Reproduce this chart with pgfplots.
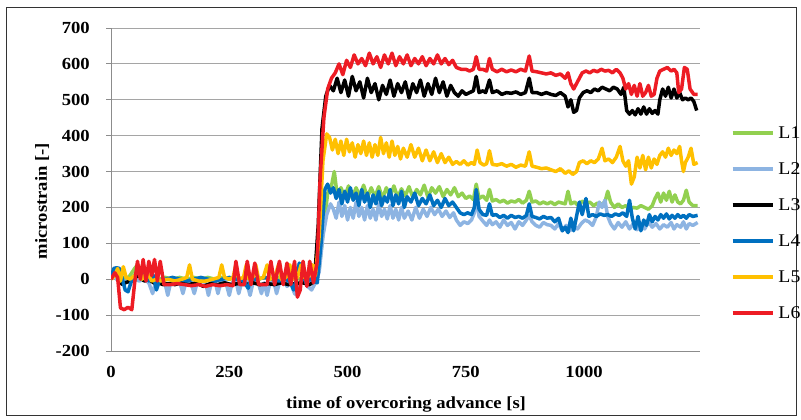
\documentclass[border=0pt]{standalone}
\usepackage{fontspec}
\setmainfont{Liberation Serif}[FakeStretch=1.1]
\usepackage{pgfplots}
\pgfplotsset{compat=1.18}
\definecolor{cLone}{RGB}{146,208,80}
\definecolor{cLtwo}{RGB}{141,180,226}
\definecolor{cLthree}{RGB}{0,0,0}
\definecolor{cLfour}{RGB}{0,112,192}
\definecolor{cLfive}{RGB}{255,192,0}
\definecolor{cLsix}{RGB}{237,28,36}
\definecolor{gridgray}{RGB}{165,165,165}
\definecolor{axgray}{RGB}{140,140,140}

\begin{document}
\begin{tikzpicture}
\path (0bp,0bp) rectangle (801bp,420bp);
\draw[line width=1bp, black!80] (6.5bp,4.5bp) rectangle (796.5bp,412bp);
\begin{axis}[
    at={(111bp,69bp)}, anchor=south west,
    scale only axis, width=589bp, height=323bp,
    xmin=0, xmax=1245, ymin=-200, ymax=700,
    xtick={0,250,500,750,1000}, ytick={-200,-100,...,700},
    axis x line*=bottom, axis y line*=left,
    axis line style={line width=1bp, color=axgray, -},
    ymajorgrids, grid style={line width=1bp, color=gridgray},
    tick align=outside, major tick length=5bp,
    xtick style={draw=none}, ytick style={line width=1bp, color=axgray},
    /pgf/number format/assume math mode=true,
    /pgf/number format/set thousands separator={},
    ticklabel style={font=\bfseries\fontsize{17}{20}\selectfont, inner sep=0pt},
    xticklabel style={yshift=-10bp},
    yticklabel style={xshift=-16bp},
    xlabel={time of overcoring advance [s]},
    ylabel={microstrain [-]},
    label style={font=\bfseries\fontsize{17}{20}\selectfont, inner sep=0pt},
    xlabel style={at={(axis description cs:0.501,-0.164)}, anchor=center},
    ylabel style={at={(axis description cs:-0.117,0.464)}, anchor=center},
    legend style={draw=none, fill=none, at={(1.0526,0.3963)}, anchor=west,
        inner sep=0pt, outer sep=0pt, row sep=24bp, column sep=4bp,
        font=\fontsize{18}{20}\selectfont,
        nodes={inner sep=0pt, text height=12bp, text depth=0bp}},
    legend image code/.code={\draw[#1, line width=3.5bp] (0bp,0bp) -- (40bp,0bp);},
    legend cell align=left,
    every axis plot/.append style={line width=3.5bp, line join=round, no markers},
]
% L1
\addplot[cLone] coordinates {(0,0)(8,20)(16,10)(24,5)(32,0)(40,10)(50,30)(56,40)(62,10)(72,20)(82,0)(92,5)(102,0)(115,5)(130,0)(145,5)(160,0)(175,5)(190,0)(205,5)(220,0)(235,5)(250,0)(265,5)(280,0)(295,5)(310,0)(325,5)(340,0)(355,5)(370,0)(385,5)(400,0)(415,5)(428,0)(440,30)(450,150)(458,240)(466,260)(472,300)(478,235)(486,255)(494,230)(502,260)(510,225)(518,255)(526,232)(534,262)(542,228)(550,255)(558,230)(566,258)(574,225)(582,255)(590,230)(598,260)(606,228)(614,252)(622,232)(630,258)(638,228)(646,250)(654,235)(662,262)(670,228)(678,255)(686,240)(694,258)(702,230)(710,250)(718,235)(726,255)(734,230)(742,240)(750,225)(758,232)(766,222)(772,265)(778,225)(786,232)(794,220)(800,250)(806,218)(814,222)(822,215)(830,220)(838,212)(846,218)(854,215)(862,222)(870,212)(878,220)(884,245)(890,215)(898,218)(906,210)(914,215)(922,210)(930,215)(938,208)(946,215)(954,212)(960,210)(966,245)(972,210)(980,215)(988,205)(996,218)(1004,210)(1012,215)(1020,205)(1028,212)(1036,208)(1044,215)(1050,245)(1056,215)(1064,200)(1072,210)(1080,200)(1088,205)(1096,195)(1104,200)(1112,198)(1120,205)(1128,200)(1136,195)(1144,205)(1150,225)(1156,240)(1162,215)(1168,240)(1174,220)(1180,245)(1186,215)(1192,235)(1198,215)(1204,210)(1210,220)(1216,248)(1222,215)(1230,205)(1240,205)};
\addlegendentry{L1}
% L2
\addplot[cLtwo] coordinates {(0,0)(6,20)(12,0)(20,-10)(30,-5)(40,-10)(50,0)(60,-5)(70,0)(80,-10)(88,-40)(94,-10)(104,-5)(114,-10)(120,-45)(126,-10)(136,-5)(146,-10)(152,-40)(158,-10)(168,-5)(176,-40)(182,-10)(192,-5)(200,-10)(206,-45)(212,-10)(220,-5)(226,-40)(232,-10)(242,-5)(250,-45)(256,-10)(264,-5)(270,-40)(276,-10)(286,-5)(294,-45)(300,-10)(310,-5)(318,-40)(324,-10)(330,-45)(336,-10)(344,-5)(350,-40)(356,-10)(366,-5)(372,-20)(380,-10)(388,-40)(394,-45)(400,-10)(408,-5)(416,-20)(424,-30)(432,-10)(440,20)(448,120)(456,180)(464,210)(470,195)(476,170)(482,215)(488,175)(494,205)(500,165)(506,200)(512,170)(518,215)(524,175)(530,200)(536,165)(542,205)(548,170)(554,195)(560,165)(566,210)(572,175)(578,195)(584,168)(590,205)(596,170)(602,195)(608,165)(614,200)(620,170)(628,190)(636,165)(644,200)(652,170)(660,195)(668,175)(676,200)(684,180)(692,195)(700,175)(708,190)(716,172)(724,185)(730,165)(738,150)(746,160)(754,155)(762,165)(768,185)(772,230)(778,175)(786,162)(794,150)(800,165)(806,152)(814,160)(822,145)(830,165)(838,150)(846,158)(854,140)(862,160)(870,150)(878,165)(884,178)(890,160)(898,150)(906,145)(914,158)(922,152)(930,150)(938,140)(946,155)(954,135)(962,150)(970,135)(978,148)(986,140)(994,155)(1002,165)(1010,160)(1018,150)(1026,175)(1032,215)(1038,200)(1044,220)(1050,175)(1056,155)(1064,140)(1072,158)(1080,145)(1088,160)(1096,140)(1104,155)(1112,138)(1120,152)(1128,140)(1136,160)(1144,145)(1152,155)(1160,140)(1168,152)(1176,145)(1184,158)(1190,140)(1196,152)(1204,145)(1210,160)(1216,140)(1222,155)(1230,150)(1240,158)};
\addlegendentry{L2}
% L3
\addplot[cLthree] coordinates {(0,0)(6,25)(12,25)(18,-5)(24,-15)(30,-10)(40,-5)(50,5)(60,10)(70,-5)(80,0)(90,-10)(100,-10)(110,-15)(120,-12)(135,-15)(150,-10)(165,-15)(180,-10)(195,-20)(210,-12)(225,-15)(240,-10)(255,-15)(270,-12)(285,-15)(300,-10)(315,-15)(330,-12)(345,-15)(360,-10)(375,-15)(390,-12)(405,-10)(420,-15)(430,-5)(438,150)(446,420)(454,510)(462,540)(470,525)(478,560)(486,520)(494,555)(502,510)(510,565)(518,525)(526,550)(534,505)(542,560)(550,520)(558,545)(566,500)(574,540)(582,515)(590,555)(598,510)(606,545)(614,520)(622,550)(630,505)(638,545)(646,520)(654,555)(662,510)(670,545)(678,515)(686,560)(694,520)(702,550)(710,510)(718,540)(726,520)(734,510)(742,525)(750,515)(758,520)(766,525)(772,565)(778,520)(786,525)(792,520)(800,555)(806,520)(816,525)(826,515)(836,520)(846,518)(856,522)(866,515)(876,520)(884,560)(890,520)(900,520)(910,515)(920,520)(930,515)(940,512)(950,520)(960,510)(966,480)(972,500)(978,465)(984,470)(990,505)(998,520)(1006,525)(1014,520)(1022,530)(1030,525)(1038,535)(1046,530)(1054,525)(1062,535)(1070,530)(1078,515)(1084,535)(1090,470)(1096,460)(1102,470)(1108,458)(1114,475)(1120,460)(1126,480)(1132,460)(1138,475)(1144,462)(1150,470)(1156,460)(1160,500)(1166,530)(1172,510)(1178,535)(1184,505)(1190,530)(1196,505)(1202,520)(1208,500)(1214,505)(1220,500)(1226,505)(1232,495)(1238,470)};
\addlegendentry{L3}
% L4
\addplot[cLfour] coordinates {(0,0)(6,30)(12,32)(18,30)(24,0)(30,-30)(36,-35)(42,-10)(50,10)(58,30)(64,0)(72,20)(80,-5)(90,10)(96,-30)(102,-5)(115,0)(130,5)(145,0)(160,-5)(175,0)(190,5)(205,0)(220,-5)(235,0)(250,5)(265,0)(280,-5)(290,-25)(296,0)(310,0)(325,5)(340,0)(355,-5)(370,0)(380,-10)(386,-30)(392,0)(398,45)(404,20)(412,-10)(420,0)(428,-5)(436,-10)(444,100)(452,250)(458,265)(464,240)(470,255)(476,225)(482,250)(488,210)(494,245)(500,215)(506,255)(512,220)(518,240)(524,205)(530,250)(536,215)(542,240)(548,200)(554,235)(560,210)(566,245)(572,205)(578,230)(584,215)(590,250)(596,205)(602,235)(608,210)(614,245)(620,200)(626,230)(634,215)(642,240)(650,205)(658,225)(666,210)(674,235)(682,205)(690,220)(698,200)(706,225)(714,205)(722,215)(730,200)(738,185)(746,180)(754,185)(762,180)(768,200)(772,250)(778,195)(786,180)(794,178)(800,210)(806,178)(814,180)(822,172)(830,178)(838,170)(846,178)(854,172)(862,175)(870,170)(878,178)(884,210)(890,175)(898,172)(906,168)(914,175)(922,170)(930,172)(938,160)(946,170)(954,135)(960,145)(966,130)(972,170)(978,135)(984,175)(990,215)(996,180)(1004,225)(1010,175)(1018,180)(1026,175)(1034,182)(1042,178)(1050,180)(1058,175)(1066,182)(1074,178)(1082,185)(1090,175)(1096,220)(1102,170)(1108,140)(1114,175)(1120,135)(1126,165)(1132,150)(1138,180)(1144,160)(1150,175)(1156,165)(1162,180)(1168,170)(1174,182)(1180,168)(1186,178)(1192,170)(1198,180)(1204,172)(1210,178)(1216,170)(1222,180)(1230,175)(1240,178)};
\addlegendentry{L4}
% L5
\addplot[cLfive] coordinates {(0,0)(8,10)(14,30)(20,-5)(26,35)(32,5)(40,0)(50,10)(60,35)(66,0)(76,20)(86,-5)(96,0)(106,-5)(120,0)(135,-5)(150,0)(160,5)(166,40)(172,0)(185,-5)(200,-5)(215,0)(228,5)(234,40)(240,5)(250,0)(258,5)(264,40)(270,0)(280,5)(286,40)(292,0)(300,5)(306,40)(312,0)(322,5)(330,40)(336,0)(346,5)(354,40)(360,0)(370,5)(378,40)(384,0)(394,5)(402,40)(408,5)(418,10)(426,40)(432,10)(440,120)(448,330)(456,405)(462,395)(468,360)(474,390)(480,350)(486,385)(492,345)(498,390)(504,355)(510,380)(516,340)(522,375)(528,350)(534,385)(540,345)(546,380)(552,340)(558,375)(564,345)(570,395)(576,350)(582,380)(588,340)(594,385)(600,345)(606,370)(612,335)(618,365)(626,340)(634,375)(642,340)(650,365)(658,330)(666,360)(674,330)(682,355)(690,325)(698,350)(706,325)(714,340)(722,320)(730,328)(738,320)(746,330)(754,318)(762,325)(768,320)(774,360)(780,325)(788,318)(794,322)(800,358)(806,320)(816,318)(826,322)(836,315)(846,320)(856,312)(866,318)(876,315)(884,355)(890,315)(900,312)(910,308)(920,310)(930,305)(940,300)(950,308)(960,295)(968,302)(976,292)(984,300)(990,325)(998,330)(1006,322)(1014,330)(1022,325)(1030,335)(1038,365)(1044,330)(1052,335)(1060,325)(1068,340)(1076,370)(1082,330)(1088,315)(1094,330)(1100,265)(1106,285)(1112,340)(1118,310)(1124,345)(1130,305)(1136,340)(1142,310)(1148,335)(1154,320)(1160,345)(1166,355)(1172,340)(1178,365)(1184,345)(1190,360)(1196,350)(1202,370)(1206,330)(1210,300)(1214,325)(1220,340)(1226,365)(1232,320)(1240,325)};
\addlegendentry{L5}
% L6
\addplot[cLsix] coordinates {(0,0)(8,18)(14,5)(20,-80)(28,-85)(36,-78)(44,-85)(50,-10)(56,50)(62,0)(68,55)(74,-5)(80,50)(86,10)(92,55)(98,-5)(104,50)(112,-15)(125,-15)(140,-12)(155,-15)(170,-18)(185,-15)(200,-20)(215,-15)(230,-18)(245,-15)(258,-18)(264,50)(272,-15)(282,-15)(288,50)(296,-15)(304,45)(312,-15)(322,-15)(330,-15)(338,50)(346,-15)(356,50)(364,-15)(372,45)(380,-15)(388,50)(394,-50)(400,-30)(406,50)(414,-20)(420,50)(428,-10)(436,50)(442,280)(450,450)(458,530)(466,560)(474,575)(482,600)(490,570)(498,610)(506,590)(514,625)(522,600)(530,615)(538,595)(546,630)(554,600)(562,620)(570,590)(578,625)(586,600)(594,630)(602,595)(610,620)(618,600)(626,625)(634,595)(642,615)(650,600)(658,620)(666,595)(674,615)(682,600)(690,625)(698,600)(706,615)(714,598)(722,610)(730,590)(740,585)(750,585)(758,580)(766,585)(772,620)(778,585)(786,585)(794,580)(800,615)(806,585)(816,578)(826,585)(836,578)(846,583)(856,578)(866,585)(876,580)(884,622)(890,580)(900,578)(910,575)(920,572)(930,575)(940,568)(950,572)(960,560)(966,575)(972,545)(978,530)(984,545)(990,560)(996,575)(1004,580)(1012,575)(1020,582)(1028,578)(1036,585)(1044,580)(1052,582)(1060,575)(1068,585)(1076,575)(1082,560)(1088,530)(1094,545)(1100,515)(1106,540)(1112,510)(1118,545)(1124,510)(1130,520)(1136,540)(1142,510)(1148,515)(1154,560)(1160,580)(1168,585)(1176,590)(1184,580)(1190,585)(1196,575)(1200,520)(1206,530)(1212,590)(1218,585)(1224,530)(1232,515)(1240,515)};
\addlegendentry{L6}
\end{axis}
\end{tikzpicture}
\end{document}
